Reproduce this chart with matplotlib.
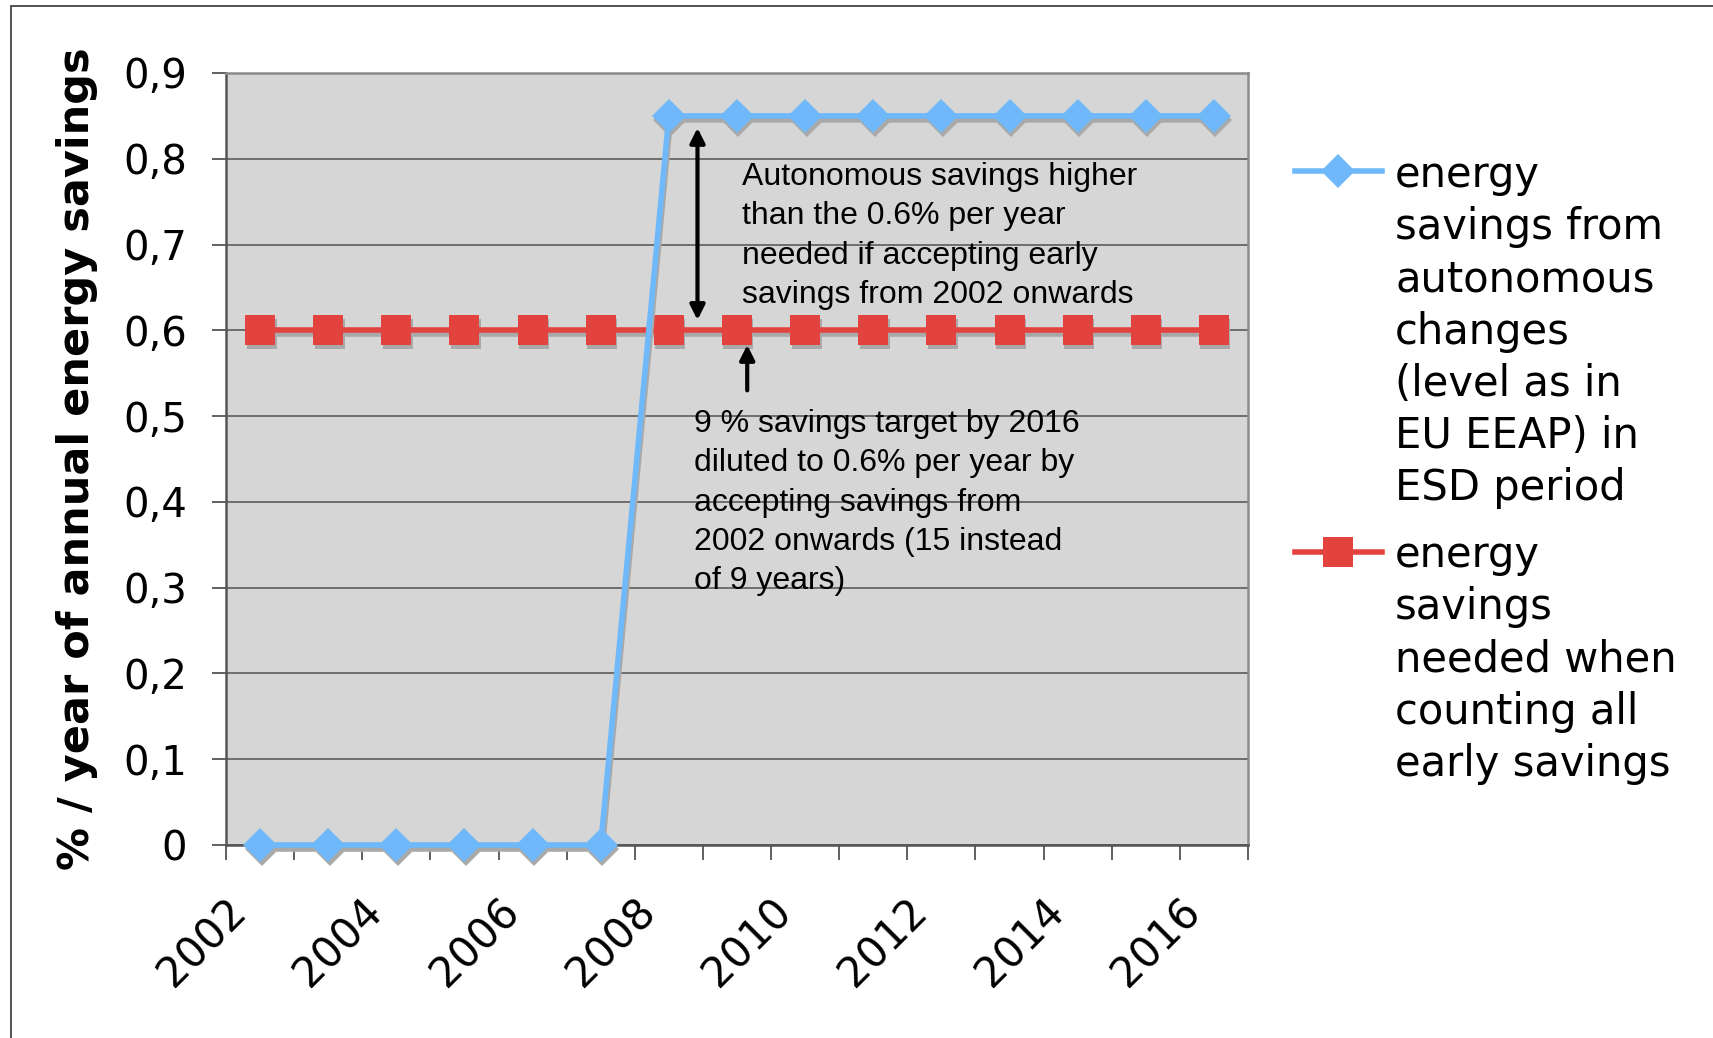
import matplotlib.pyplot as plt
import numpy as np
from matplotlib.lines import Line2D
from matplotlib.patches import Rectangle
from matplotlib.transforms import ScaledTranslation

# data
years = list(range(2002, 2017))
autonomous = [0, 0, 0, 0, 0, 0, 0.85, 0.85, 0.85, 0.85, 0.85, 0.85, 0.85, 0.85, 0.85]
needed = [0.6] * 15
yticks = [0, 0.1, 0.2, 0.3, 0.4, 0.5, 0.6, 0.7, 0.8, 0.9]
ytick_labels = ['0', '0,1', '0,2', '0,3', '0,4', '0,5', '0,6', '0,7', '0,8', '0,9']
label_years = [2002, 2004, 2006, 2008, 2010, 2012, 2014, 2016]
legend_labels = ['energy\nsavings from\nautonomous\nchanges\n(level as in\nEU EEAP) in\nESD period',
                 'energy\nsavings\nneeded when\ncounting all\nearly savings']
note_high = ('Autonomous savings higher\nthan the 0.6% per year\n'
             'needed if accepting early\nsavings from 2002 onwards')
note_target = ('9 % savings target by 2016\ndiluted to 0.6% per year by\n'
               'accepting savings from\n2002 onwards (15 instead\nof 9 years)')

blue = '#6fb8fa'
red = '#e2433f'
shade = '#a9a9a9'

W, H = 1713, 1038
fig = plt.figure(figsize=(W / 100, H / 100), dpi=100)

def fx(px):
    return px / W

def fy(py):
    return 1 - py / H

ax = fig.add_axes([fx(226), fy(845), fx(1248) - fx(226), fy(73) - fy(845)])
ax.set_facecolor('#d6d6d6')
ax.set_axisbelow(True)

x = np.arange(len(years))
shadow = ax.transData + ScaledTranslation(1.5 / 100, -4 / 100, fig.dpi_scale_trans)

ax.plot(x, needed, color=shade, lw=4, marker='s', ms=21, mew=0, transform=shadow, zorder=2, clip_on=False)
ax.plot(x, needed, color=red, lw=4, marker='s', ms=21, mew=0, zorder=3, clip_on=False)
ax.plot(x, autonomous, color=shade, lw=4, marker='D', ms=17, mew=0, transform=shadow, zorder=4, clip_on=False)
ax.plot(x, autonomous, color=blue, lw=4, marker='D', ms=17, mew=0, zorder=5, clip_on=False)

ax.set_xlim(-0.5, len(years) - 0.5)
ax.set_ylim(0, 0.9)

ax.set_yticks(yticks)
ax.set_yticklabels(ytick_labels, fontsize=29)
ax.yaxis.grid(True, color='#666666', lw=1.3)
ax.tick_params(axis='y', length=10, width=1.3, color='#555555', pad=18)

# tick marks between categories, labels at category centres
ax.set_xticks(np.arange(len(years) + 1) - 0.5)
ax.set_xticklabels([])
ax.tick_params(axis='x', which='major', length=11, width=1.3, color='#555555')
ax.set_xticks([years.index(y) for y in label_years], minor=True)
ax.set_xticklabels([str(y) for y in label_years], minor=True, fontsize=30,
                   rotation=45, ha='right', va='center', rotation_mode='anchor')
ax.tick_params(axis='x', which='minor', length=0, pad=46)
nudge = ScaledTranslation(-20 / 100, 4 / 100, fig.dpi_scale_trans)
for lab in ax.get_xticklabels(minor=True):
    lab.set_transform(lab.get_transform() + nudge)

for side in ['left', 'bottom']:
    ax.spines[side].set_color('#555555')
    ax.spines[side].set_linewidth(1.8)
for side in ['top', 'right']:
    ax.spines[side].set_color('#8c8c8c')
    ax.spines[side].set_linewidth(1.8)

ax.set_ylabel('% / year of annual energy savings', fontsize=31, fontweight='bold', labelpad=18)

# annotations
ax.text(7.08, 0.796, note_high, fontsize=23, family='Liberation Sans', va='top', ha='left', linespacing=1.4)
ax.text(6.37, 0.508, note_target, fontsize=23, family='Liberation Sans', va='top', ha='left', linespacing=1.4)
ax.annotate('', xy=(6.42, 0.836), xytext=(6.42, 0.612),
            arrowprops=dict(arrowstyle='<|-|>', lw=3, color='black', mutation_scale=22,
                            shrinkA=0, shrinkB=0))
ax.annotate('', xy=(7.15, 0.583), xytext=(7.15, 0.53),
            arrowprops=dict(arrowstyle='-|>', lw=3, color='black', mutation_scale=22,
                            shrinkA=0, shrinkB=0))

# legend drawn by hand so the key sits on the first text line
keys = [(blue, 'D', 17, 171, 154), (red, 's', 21, 552, 534)]
for (col, mk, ms, ly, top), label in zip(keys, legend_labels):
    fig.add_artist(Line2D([fx(1295), fx(1382)], [fy(ly), fy(ly)], color=col, lw=4,
                          transform=fig.transFigure))
    fig.add_artist(Line2D([fx(1338)], [fy(ly)], color=col, marker=mk, ms=ms, mew=0,
                          transform=fig.transFigure))
    fig.text(fx(1395), fy(top), label, fontsize=30, va='top', ha='left', linespacing=1.31)

# thin frame round the chart
fig.add_artist(Rectangle((fx(11), -0.05), 1.2, fy(6) + 0.05, transform=fig.transFigure,
                         fill=False, ec='#444444', lw=1.3))

fig.savefig('out.png', dpi=100)
